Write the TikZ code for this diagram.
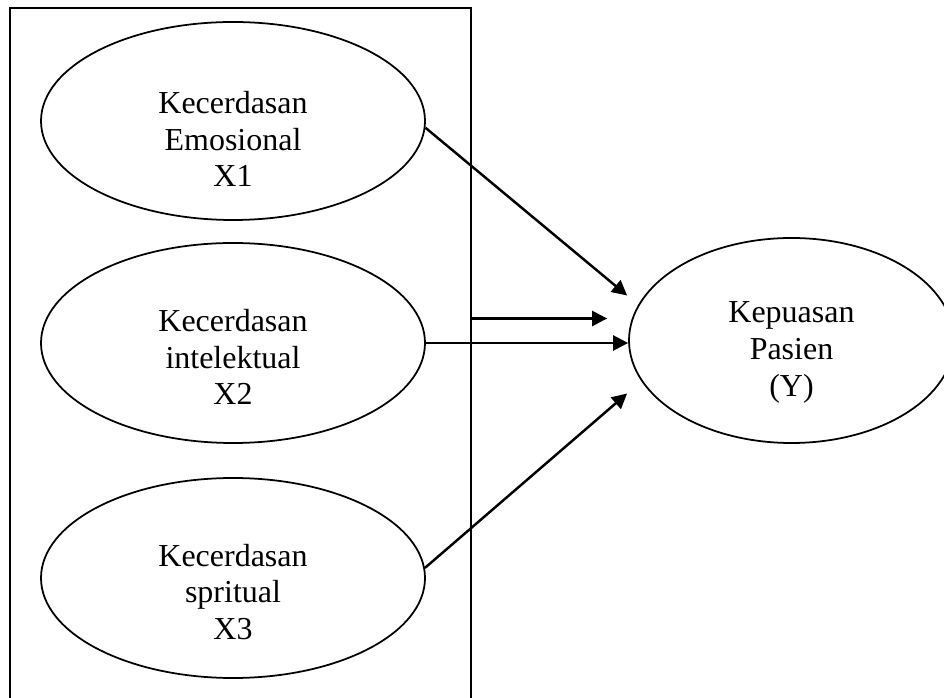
\documentclass[tikz,border=0pt]{standalone}
\usepackage{fontspec}
\setmainfont{Liberation Serif}
\usetikzlibrary{shapes.geometric,arrows.meta}

\begin{document}
\begin{tikzpicture}[
  var/.style={draw,ellipse,line width=1pt,inner sep=0pt,minimum width=7.68cm,minimum height=4cm},
  lbl/.style={align=center,font=\fontsize{18.2pt}{21pt}\selectfont},
  arr/.style={line width=1.4pt,-{Triangle[length=0.3cm,width=0.3cm]}}]
\clip (0,0) rectangle (18.88,13.94);
\node[draw,line width=1pt,minimum width=9.22cm,minimum height=13.94cm] (frame) at (4.81,6.81) {};
% variabel bebas
\node[var,minimum height=3.96cm] (x1) at (4.66,11.52) {};
\node[var] (x2) at (4.66,7.08) {};
\node[var] (x3) at (4.66,2.38) {};
\node[lbl] (x1t) at ([yshift=-0.36cm]x1.center) {Kecerdasan\\Emosional\\X1};
\node[lbl] (x2t) at ([yshift=-0.28cm]x2.center) {Kecerdasan\\intelektual\\X2};
\node[lbl] (x3t) at ([yshift=-0.28cm]x3.center) {Kecerdasan\\spritual\\X3};
% variabel terikat
\node[var,minimum width=6.5cm,minimum height=4.1cm] (y) at (15.83,7.13) {};
\node[lbl] (yt) at ([yshift=-0.24cm]y.center) {Kepuasan\\Pasien\\(Y)};
% ujung panah
\coordinate (t1) at ([xshift=-0.02cm,yshift=0.9cm]y.west);
\coordinate (t2) at ([xshift=-0.42cm,yshift=0.44cm]y.west);
\coordinate (t4) at ([xshift=-0.02cm,yshift=-1.06cm]y.west);
\draw[arr] (x1.-2) -- (t1);
\draw[arr] (frame.east |- t2) -- (t2);
\draw[arr] (x2.east) -- (x2.east -| y.west);
\draw[arr] (x3.3) -- (t4);
\end{tikzpicture}
\end{document}
